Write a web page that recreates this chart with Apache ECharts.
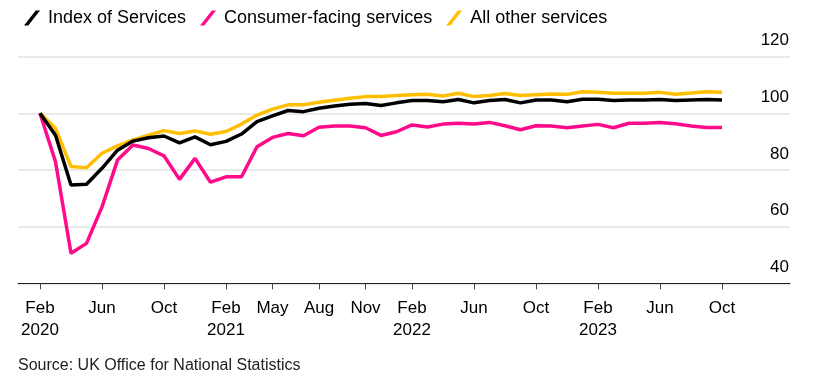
<!DOCTYPE html>
<html>
<head>
<meta charset="utf-8">
<script src="https://cdn.jsdelivr.net/npm/echarts@6/dist/echarts.min.js"></script>
<style>
html,body{margin:0;padding:0;background:#fff;}
#chart{width:818px;height:382px;}
</style>
</head>
<body>
<div id="chart"></div>
<script>
const months = [
  'Feb 2020','Mar 2020','Apr 2020','May 2020','Jun 2020','Jul 2020','Aug 2020','Sep 2020','Oct 2020','Nov 2020','Dec 2020',
  'Jan 2021','Feb 2021','Mar 2021','Apr 2021','May 2021','Jun 2021','Jul 2021','Aug 2021','Sep 2021','Oct 2021','Nov 2021','Dec 2021',
  'Jan 2022','Feb 2022','Mar 2022','Apr 2022','May 2022','Jun 2022','Jul 2022','Aug 2022','Sep 2022','Oct 2022','Nov 2022','Dec 2022',
  'Jan 2023','Feb 2023','Mar 2023','Apr 2023','May 2023','Jun 2023','Jul 2023','Aug 2023','Sep 2023','Oct 2023'
];
const indexOfServices = [
  100, 92.3, 74.7, 75, 80.6, 87, 90.2, 91.4, 92, 89.6, 91.7,
  88.9, 90.1, 92.7, 97.1, 99.1, 101, 100.6, 101.8, 102.6, 103.2, 103.5, 102.8,
  103.7, 104.5, 104.5, 104.1, 104.9, 103.7, 104.5, 104.9, 103.7, 104.7, 104.7, 104.1,
  105, 105, 104.5, 104.7, 104.7, 104.9, 104.5, 104.7, 104.9, 104.7
];
const consumerFacing = [
  100, 82.9, 50.6, 54.1, 67, 83.5, 88.8, 87.6, 85, 76.7, 84.1,
  75.7, 77.6, 77.6, 88.2, 91.5, 92.9, 92.1, 95.1, 95.5, 95.5, 94.9, 92.2,
  93.5, 95.9, 95.2, 96.2, 96.5, 96.2, 96.8, 95.6, 94.2, 95.6, 95.5, 94.9,
  95.5, 96.1, 94.9, 96.5, 96.5, 96.8, 96.3, 95.5, 95, 95
];
const allOther = [
  100, 94.7, 81.2, 80.8, 85.9, 88.5, 90.6, 92.3, 93.9, 92.9, 93.8,
  92.6, 93.6, 96.2, 99.4, 101.5, 103, 103, 103.9, 104.6, 105.3, 105.9, 105.9,
  106.3, 106.6, 106.7, 106.1, 107.1, 105.9, 106.3, 107, 106.3, 106.6, 106.8, 106.7,
  107.6, 107.4, 107.1, 107.1, 107.1, 107.4, 106.7, 107.2, 107.6, 107.4
];
const tickMonths = ['Feb 2020','Jun 2020','Oct 2020','Feb 2021','May 2021','Aug 2021','Nov 2021','Feb 2022','Jun 2022','Oct 2022','Feb 2023','Jun 2023','Oct 2023'];
const tickLabels = ['Feb\n2020','Jun','Oct','Feb\n2021','May','Aug','Nov','Feb\n2022','Jun','Oct','Feb\n2023','Jun','Oct'];
const yTicks = [40, 60, 80, 100, 120];

const seriesNames = ['Index of Services', 'Consumer-facing services', 'All other services'];
const colors = ['#000000', '#ff0a8a', '#ffbf00'];
const slash = 'path://M0,14 L11,0 L15,0 L4,14 Z';

const chart = echarts.init(document.getElementById('chart'), null, {renderer: 'canvas'});
const isTick = (i, v) => tickMonths.indexOf(v) >= 0;

chart.setOption({
  animation: false,
  backgroundColor: '#fff',
  textStyle: {fontFamily: 'Liberation Sans, Arial, sans-serif'},
  legend: {
    left: 19, top: 4,
    itemWidth: 16, itemHeight: 15, itemGap: 14,
    textStyle: {fontSize: 18, color: '#000', padding: [0, 0, 0, 3]},
    data: seriesNames.map((n, i) => ({name: n, icon: slash, itemStyle: {color: colors[i]}}))
  },
  grid: [
    {left: 18, right: 28, top: 56.67, bottom: 98.67},
    {left: 40, right: 96, top: 56.67, bottom: 98.67}
  ],
  xAxis: [
    {gridIndex: 0, type: 'value', min: 0, max: 1,
      axisLine: {show: true, onZero: false, lineStyle: {color: '#222', width: 1}},
      axisTick: {show: false}, axisLabel: {show: false}, splitLine: {show: false}},
    {gridIndex: 1, type: 'category', boundaryGap: false, data: months,
      axisLine: {show: false},
      axisTick: {show: true, interval: isTick, length: 6, lineStyle: {color: '#444', width: 1}},
      axisLabel: {interval: isTick, formatter: v => tickLabels[tickMonths.indexOf(v)],
        fontSize: 17, color: '#000', lineHeight: 22, margin: 14},
      splitLine: {show: false}}
  ],
  yAxis: [
    {gridIndex: 0, type: 'value', position: 'right', min: yTicks[0], max: yTicks[yTicks.length - 1], interval: 20,
      axisLine: {show: false}, axisTick: {show: false},
      axisLabel: {inside: true, margin: 1, fontSize: 17, color: '#000', verticalAlign: 'bottom', lineHeight: 32,
        formatter: v => yTicks.indexOf(v) >= 0 ? String(v) : ''},
      splitLine: {show: true, lineStyle: {color: '#e2e2e2', width: 1.5}}},
    {gridIndex: 1, type: 'value', min: 40, max: 120, show: false, splitLine: {show: false}}
  ],
  series: [
    {name: seriesNames[2], type: 'line', xAxisIndex: 1, yAxisIndex: 1, data: allOther,
      symbol: 'none', lineStyle: {color: colors[2], width: 3.5}, itemStyle: {color: colors[2]}, z: 3},
    {name: seriesNames[1], type: 'line', xAxisIndex: 1, yAxisIndex: 1, data: consumerFacing,
      symbol: 'none', lineStyle: {color: colors[1], width: 3.5}, itemStyle: {color: colors[1]}, z: 4},
    {name: seriesNames[0], type: 'line', xAxisIndex: 1, yAxisIndex: 1, data: indexOfServices,
      symbol: 'none', lineStyle: {color: colors[0], width: 3.5}, itemStyle: {color: colors[0]}, z: 5}
  ],
  graphic: [
    {type: 'text', left: 18, top: 358,
      style: {text: 'Source: UK Office for National Statistics', fontSize: 16, fill: '#222',
        fontFamily: 'Liberation Sans, Arial, sans-serif'}}
  ]
});
</script>
</body>
</html>
